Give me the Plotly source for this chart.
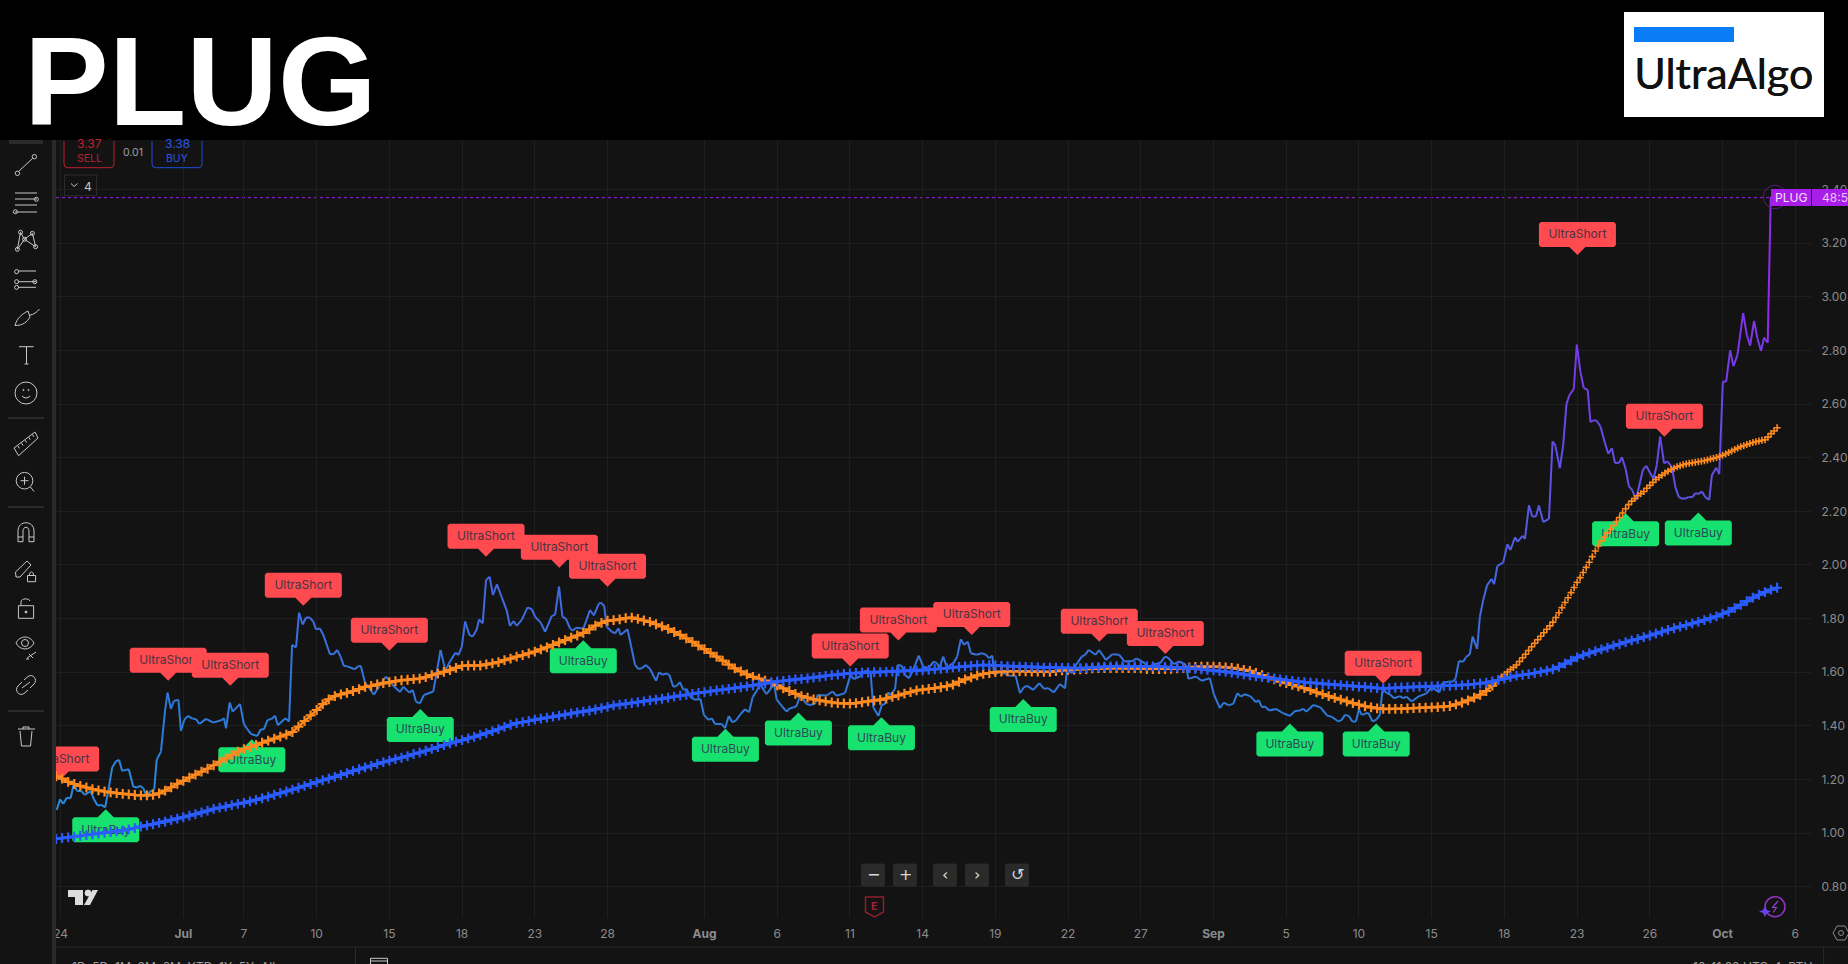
import re
import plotly.graph_objects as go

# ---------- data ----------
price_bars = [2.2,3.3,4.4,5.5,6.8,7.9,8.8,10.5,11.4,13.4,14.6,15.7,17,18.2,19.3,20.5,21.7,22.8,23.8,26,27.5,28.8,29.7,30.8,32.1,33,34.4,35.2,36.6,38,38.8,39.9,40.9,42.4,43.2,44.3,45.5,47,48.2,49.3,51.5,53.9,56.7,57.4,58.1,59.3,60.3,62.7,64,64.9,66.3,68.4,69.6,70.6,71.8,73,74.3,75.2,77.7,78.9,79.9,81.2,82.2,83.4,84.5,85.8,86.9,87.8,89.1,90.2,92.4,93.7,94.8,95.9,97,98.1,
100.6,101.8,102.6,104,105,106.9,108.5,110.9,112.8,115.5,116.6,118.6,119.7,120.8,122.1,123.4,126.5,128.9,130.5,132,133.8,134.8,135.9,137,138.4,139.5,140.8,141.6,142.8,143.9,145.1,146.2,147.5,149,150.7,151.8,153,154,155.7,157.6,159,160.2,161.9,163.4,165.6,166.7,168,169.1,170.3,171.6,172.5,173.6,176,177.1,178.2,179.5,181.1,181.7,182.9,183.7,185.4,186.5,187.6,188.3,190.6,193.1,194.2,195.3,196.6,
198,200,201,202.2,203.3,204.4,205.7,206.8,207.9,209,210.1,211.2,212.9,214.7,215.8,217.3,218.4,219.5,221.7,222.8,224,225.2,226.4,227.7,229.4,230.7,231.9,233.4,234.3,236.5,239,239.8,241.5,243.1,244.2,245.3,246.4,247.7,249.5,250.8,252.5,253.3,256.3,258.3,259.6,262.4,264.2,265.3,267.3,269,270.8,271.7,273.4,274.5,275.6,276.7,277.4,278.9,279.7,281.1,282.2,283.5,284.9,286.7,288.2,289.9,291.7,292.8,293.5,294.8,296.2,
297,298.1,299.4,300.6,301.7,302.9,303.9,305.8,307.5,308.9,310,311,311.6,313.5,315.2,316.6,318.7,320.1,321.4,322.5,324.5,326.5,328.1,329.5,331.3,333.3,335,335.7,337.2,338.6,340.5,341.6,342.8,345.1,346.2,348.5,350.6,352.9,354.6,357.3,358.6,361.4,362.5,364.1,366.3,368,369,370.9,372.7,374.9,375.7,378.2,380.1,382.8,384.1,386.1,387.4,388.9,390.5,391.9,393,394.4,
396,397.1,398,398.9,400,401,402.4,404.6,407,409.2,410.9,412.5,413.6,414.7,416.9,419.3,421.5,423,425.2,426.3,427.4,428.7,429.8,431,432,432.9,435.1,436.5,437.8,438.9,439.8,441.3,442.2,443.6,445.5,446.6,447.7,449.4,451.6,454.3,456,458.5,459.6,461.5,463.1,463.9,465,466.4,467.3,468.6,469.5,471,471.9,473,474.3,475.8,476.6,477.7,479.6,481,482,483.5,484.4,486,486.8,
488.1,489.2,490.4,491.4,492.8,494.7,495.9,496.8,498.3,499.4,500.5,501.4,502.9,503.9,505.1,506.2,507.5,508.4,509.3,510.4,511.7,513.2,514.3,515.5,516.5,517.9,518.8,520,521.1,522.3,523.4,
525.7,526.8,529.2,530.3,531.4,532.7,533.8,535.3,536.4,537.5,538.6,539.9,540.8,542.1,543,544.1,545.2,546.3,547.6,548.5,549.9,550.9,552.1,553.2,554.5,555.6,556.9,558.8,560,561.1,562.4,563.5,564.7,565.7,566.9,567.9]
price_vals = [1.086,1.126,1.109,1.132,1.130,1.186,1.158,1.156,1.142,1.156,1.124,1.103,1.105,1.096,1.161,1.244,1.267,1.273,1.232,1.238,1.173,1.170,1.176,1.167,1.132,1.155,1.163,1.273,1.304,1.459,1.524,1.463,1.493,1.497,1.381,1.422,1.437,1.427,1.425,1.407,1.426,1.412,1.422,1.428,1.391,1.487,1.453,1.482,1.407,1.391,1.370,1.362,1.387,1.387,1.422,1.425,1.438,1.402,1.428,1.416,1.702,1.693,1.822,1.778,1.804,1.804,1.789,1.760,1.763,1.739,1.667,1.668,1.683,1.658,1.623,1.622,
1.611,1.623,1.623,1.559,1.546,1.516,1.546,1.584,1.555,1.526,1.546,1.524,1.534,1.490,1.484,1.515,1.528,1.683,1.606,1.640,1.673,1.664,1.695,1.789,1.739,1.733,1.758,1.797,1.782,1.944,1.956,1.888,1.928,1.882,1.832,1.773,1.791,1.773,1.795,1.842,1.835,1.805,1.786,1.751,1.810,1.814,1.919,1.807,1.799,1.764,1.755,1.766,1.763,1.795,1.832,1.812,1.855,1.860,1.848,1.770,1.751,1.745,1.764,1.739,1.760,1.627,1.612,1.615,1.627,
1.613,1.568,1.600,1.590,1.596,1.590,1.546,1.549,1.563,1.534,1.538,1.509,1.497,1.500,1.441,1.422,1.428,1.407,1.407,1.391,1.437,1.413,1.420,1.441,1.462,1.451,1.507,1.534,1.555,1.518,1.556,1.499,1.474,1.453,1.466,1.468,1.474,1.518,1.482,1.478,1.482,1.515,1.513,1.528,1.512,1.522,1.590,1.574,1.584,1.606,1.602,1.469,1.437,1.478,1.482,1.525,1.515,1.538,1.627,1.624,1.590,1.578,1.609,1.662,1.621,1.615,1.640,1.633,1.615,1.658,1.611,
1.627,1.633,1.658,1.723,1.702,1.714,1.671,1.665,1.671,1.665,1.652,1.662,1.590,1.602,1.594,1.587,1.587,1.522,1.544,1.549,1.534,1.559,1.538,1.540,1.525,1.556,1.540,1.615,1.596,1.627,1.658,1.665,1.683,1.665,1.683,1.646,1.667,1.665,1.640,1.642,1.652,1.633,1.615,1.630,1.633,1.658,1.654,1.630,1.640,1.627,1.575,1.584,1.568,1.578,1.518,1.466,1.487,1.477,1.482,1.522,1.509,1.518,
1.511,1.500,1.488,1.496,1.469,1.472,1.457,1.463,1.447,1.437,1.455,1.457,1.464,1.453,1.478,1.469,1.438,1.434,1.416,1.422,1.441,1.437,1.416,1.416,1.462,1.441,1.449,1.416,1.424,1.441,1.540,1.521,1.518,1.503,1.511,1.503,1.509,1.491,1.509,1.521,1.544,1.525,1.559,1.565,1.565,1.577,1.642,1.639,1.656,1.668,1.733,1.687,1.807,1.869,1.925,1.948,1.928,1.997,2.009,2.077,2.056,2.103,2.087,2.109,2.097,
2.222,2.181,2.181,2.222,2.160,2.172,2.461,2.446,2.361,2.446,2.601,2.632,2.657,2.822,2.719,2.660,2.653,2.533,2.539,2.539,2.517,2.454,2.415,2.436,2.380,2.381,2.402,2.359,2.293,2.278,2.241,
2.355,2.370,2.321,2.373,2.479,2.379,2.386,2.365,2.292,2.255,2.247,2.249,2.253,2.253,2.268,2.265,2.274,2.253,2.243,2.336,2.363,2.339,2.684,2.684,2.800,2.742,2.783,2.939,2.858,2.818,2.910,2.846,2.798,2.848,2.829,3.374]

# orange average: every second bar up to bar 474, then every bar on the steep climb
orange_flat = [1.212,1.203,1.191,1.183,1.176,1.170,1.164,1.159,1.155,1.152,1.149,1.146,1.144,1.142,1.141,1.141,1.143,1.148,1.158,1.171,1.184,1.195,1.207,1.218,1.229,1.240,1.253,1.266,1.279,1.292,1.304,1.313,1.321,1.329,1.337,1.345,1.352,1.360,1.367,1.377,1.397,1.418,1.439,1.459,1.481,1.499,1.511,1.517,1.523,1.530,1.537,1.545,1.549,1.555,1.559,1.563,1.567,1.570,1.572,1.574,1.576,1.582,1.589,1.595,1.601,1.608,1.616,1.624,1.625,1.625,1.625,1.629,1.633,1.638,1.645,1.651,1.658,1.664,1.670,1.677,1.685,1.693,1.702,1.711,1.720,1.729,1.737,1.747,1.760,1.774,1.784,1.792,1.794,1.797,1.802,1.804,1.799,1.793,1.788,1.779,1.771,1.762,1.750,1.739,1.726,1.713,1.699,1.686,1.672,1.658,1.643,1.628,1.614,1.603,1.592,1.583,1.576,1.569,1.561,1.551,1.540,1.530,1.519,1.511,1.505,1.499,1.495,1.491,1.487,1.485,1.484,1.483,1.485,1.488,1.491,1.494,1.497,1.502,1.508,1.514,1.520,1.526,1.532,1.535,1.538,1.541,1.544,1.548,1.554,1.564,1.573,1.581,1.588,1.594,1.597,1.600,1.602,1.603,1.604,1.604,1.603,1.602,1.602,1.601,1.601,1.604,1.607,1.609,1.610,1.611,1.612,1.614,1.615,1.615,1.615,1.615,1.615,1.615,1.615,1.614,1.612,1.612,1.612,1.612,1.613,1.614,1.615,1.618,1.620,1.621,1.621,1.621,1.620,1.618,1.616,1.613,1.609,1.605,1.597,1.589,1.581,1.573,1.565,1.559,1.553,1.547,1.541,1.533,1.525,1.518,1.511,1.504,1.498,1.491,1.485,1.479,1.473,1.469,1.465,1.463,1.463,1.463,1.463,1.465,1.466,1.467,1.468,1.469,1.470,1.472,1.474,1.480,1.487,1.495,1.505,1.516,1.530]
orange_steep = [1.550,1.561,1.572,1.582,1.591,1.601,1.610,1.618,1.627,1.640,1.654,1.667,1.681,1.695,1.708,1.721,1.734,1.747,1.760,1.773,1.787,1.804,1.822,1.841,1.860,1.878,1.897,1.916,1.935,1.953,1.972,1.991,2.010,2.031,2.052,2.071,2.089,2.104,2.119,2.133,2.147,2.162,2.177,2.194,2.210,2.225,2.238,2.248,2.258,2.266,2.274,2.286,2.297,2.308,2.319,2.327,2.335,2.343,2.350,2.356,2.361,2.366,2.370,2.374,2.377,2.379,2.381,2.383,2.385,2.387,2.389,2.392,2.395,2.398,2.401,2.405,2.409,2.414,2.420,2.425,2.431,2.436,2.441,2.445,2.449,2.453,2.457,2.460,2.462,2.465,2.467,2.477,2.490,2.500,2.512]
blue_ma = [.978,.981,.984,.987,.990,.992,.995,.998,1.001,1.004,1.006,1.010,1.014,1.019,1.024,1.029,1.033,1.038,1.043,1.048,1.054,1.059,1.065,1.071,1.077,1.084,1.090,1.095,1.099,1.104,1.109,1.113,1.118,1.124,1.130,1.136,1.143,1.149,1.155,1.162,1.169,1.176,1.183,1.190,1.197,1.203,1.210,1.217,1.224,1.232,1.238,1.245,1.251,1.258,1.265,1.270,1.276,1.281,1.287,1.295,1.300,1.307,1.314,1.321,1.328,1.335,1.341,1.347,1.353,1.359,1.366,1.373,1.380,1.388,1.396,1.404,1.410,1.414,1.418,1.423,1.427,1.431,1.434,1.438,1.442,1.446,1.450,1.453,1.457,1.461,1.466,1.471,1.476,1.479,1.482,1.485,1.488,1.491,1.495,1.498,1.501,1.505,1.509,1.513,1.516,1.519,1.523,1.526,1.529,1.532,1.535,1.538,1.541,1.544,1.547,1.551,1.554,1.558,1.562,1.566,1.568,1.570,1.573,1.575,1.577,1.580,1.583,1.586,1.589,1.591,1.594,1.596,1.597,1.598,1.599,1.600,1.600,1.601,1.602,1.603,1.604,1.605,1.606,1.607,1.609,1.611,1.613,1.615,1.618,1.620,1.622,1.624,1.626,1.627,1.626,1.625,1.624,1.623,1.622,1.621,1.620,1.619,1.618,1.617,1.617,1.617,1.616,1.616,1.615,1.615,1.616,1.618,1.619,1.621,1.622,1.623,1.623,1.623,1.623,1.623,1.623,1.622,1.621,1.620,1.619,1.618,1.617,1.615,1.613,1.611,1.609,1.607,1.604,1.602,1.599,1.596,1.592,1.588,1.585,1.582,1.579,1.576,1.573,1.570,1.568,1.565,1.563,1.561,1.559,1.557,1.555,1.554,1.552,1.550,1.548,1.546,1.545,1.543,1.541,1.540,1.541,1.542,1.543,1.544,1.545,1.546,1.547,1.547,1.548,1.549,1.549,1.551,1.552,1.554,1.556,1.558,1.561,1.566,1.571,1.576,1.582,1.587,1.590,1.593,1.597,1.601,1.606,1.611,1.620,1.632,1.643,1.655,1.664,1.671,1.679,1.685,1.692,1.699,1.705,1.712,1.719,1.724,1.731,1.737,1.744,1.751,1.758,1.764,1.770,1.776,1.782,1.788,1.794,1.801,1.808,1.818,1.826,1.839,1.851,1.865,1.878,1.889,1.899,1.908,1.915]
blue_bars = [2 + 2 * i for i in range(len(blue_ma))]
orange_flat_bars = [2 + 2 * i for i in range(len(orange_flat))]
orange_steep_bars = [476 + i for i in range(len(orange_steep))]

short_bars = [3.5,39,59.5,83.6,112,143.9,168.1,184,264.1,280,304.2,346.3,368.1,440,504.1,532.8]
short_prices = [1.200,1.568,1.550,1.848,1.680,2.031,1.990,1.919,1.621,1.718,1.739,1.714,1.668,1.557,3.156,2.478]
buy_bars = [18.4,66.6,122.2,176,222.9,247,274.4,321.2,409.2,437.7,520,544]
buy_prices = [1.089,1.350,1.463,1.719,1.389,1.450,1.432,1.500,1.409,1.409,2.193,2.196]

tick_bars = [3.5,44,64,88,112,136,160,184,216,240,264,288,312,336,360,384,408,432,456,480,504,528,552,576]
tick_text = ["24","<b>Jul</b>","7","10","15","18","23","28","<b>Aug</b>","6","11","14","19","22","27","<b>Sep</b>","5","10","15","18","23","26","<b>Oct</b>","6"]
price_ticks = [0.8,1.0,1.2,1.4,1.6,1.8,2.0,2.2,2.4,2.6,2.8,3.0,3.2,3.4]
last_price = 3.37

# ---------- frame ----------
W, H = 1848, 964
PL, PR, PT, PB = 56, 1811, 140, 918
PX_PER_BAR, PX_PER_UNIT = 3.03, 268.1
BG = "#131313"
UI = "#c8c8c8"

def xp(x): return (x - PL) / (PR - PL)
def yp(y): return (PB - y) / (PB - PT)

shapes, annotations = [], []

def rect(x0, y0, x1, y1, fill=None, line=None, lw=1):
    shapes.append(dict(type="rect", xref="paper", yref="paper", x0=xp(x0), x1=xp(x1), y0=yp(y0), y1=yp(y1),
                       fillcolor=fill or "rgba(0,0,0,0)", line=dict(color=line or "rgba(0,0,0,0)", width=lw if line else 0), layer="above"))

def seg(x0, y0, x1, y1, color=UI, lw=1):
    shapes.append(dict(type="line", xref="paper", yref="paper", x0=xp(x0), x1=xp(x1), y0=yp(y0), y1=yp(y1),
                       line=dict(color=color, width=lw), layer="above"))

def circ(cx, cy, r, color=UI, lw=1, fill=None):
    shapes.append(dict(type="circle", xref="paper", yref="paper", x0=xp(cx - r), x1=xp(cx + r), y0=yp(cy + r), y1=yp(cy - r),
                       fillcolor=fill or "rgba(0,0,0,0)", line=dict(color=color, width=lw), layer="above"))

def path(d, color=UI, lw=1, fill=None):
    toks = re.findall(r"[MLCQZ]|-?[\d.]+", d)
    out, isx = [], True
    for t in toks:
        if t.isalpha():
            out.append(t)
        else:
            out.append(f"{xp(float(t)):.6f}" if isx else f"{yp(float(t)):.6f}")
            isx = not isx
    shapes.append(dict(type="path", xref="paper", yref="paper", path=" ".join(out),
                       fillcolor=fill or "rgba(0,0,0,0)",
                       line=dict(color=color if color else "rgba(0,0,0,0)", width=lw if color else 0), layer="above"))

def text(x, y, s, size=12, color=UI, anchor="center", family="Inter", shadow=None):
    font = dict(family=family, size=size, color=color)
    if shadow:
        font["shadow"] = shadow
    annotations.append(dict(xref="paper", yref="paper", x=xp(x), y=yp(y), text=s, showarrow=False,
                            xanchor=anchor, yanchor="middle", align=anchor if anchor != "center" else "center",
                            font=font, borderpad=0))

fig = go.Figure()

# ---------- signal labels (drawn first: the lines run over them) ----------
def bubble(bar, price, w, up):
    """Rounded tag with a pointer whose tip sits on (bar, price); sizes in pixels."""
    h, tip, r, t = 25, 8, 2, 8
    top = tip if up else -(tip + h)
    bot = top + h
    pts = [(-w/2 + r, top)]
    if up:
        pts += [(-t, top), (0, 0), (t, top)]
    pts += [(w/2 - r, top), (w/2, top + r), (w/2, bot - r), (w/2 - r, bot)]
    if not up:
        pts += [(t, bot), (0, 0), (-t, bot)]
    pts += [(-w/2 + r, bot), (-w/2, bot - r), (-w/2, top + r), (-w/2 + r, top)]
    xs = [bar + a / PX_PER_BAR for a, _ in pts]
    ys = [price - b / PX_PER_UNIT for _, b in pts]
    cy = price - (top + h / 2 + 0.8) / PX_PER_UNIT
    return xs, ys, cy

labels = [(b, p, "s") for b, p in zip(short_bars, short_prices)] + [(b, p, "b") for b, p in zip(buy_bars, buy_prices)]
for b, p, kind in labels:
    up = kind == "b"
    xs, ys, cy = bubble(b, p, 67 if up else 77, up)
    fig.add_trace(go.Scatter(x=xs, y=ys, mode="lines", fill="toself", fillcolor="#17e26f" if up else "#ff4a50",
                             line=dict(width=0), hoverinfo="skip"))
    fig.add_trace(go.Scatter(x=[b], y=[cy], mode="text", text=["UltraBuy" if up else "UltraShort"],
                             textposition="middle center", hoverinfo="skip",
                             textfont=dict(family="Inter", size=12, color="#2b4a55" if up else "#4a3340")))

# ---------- price line: colour follows the price level ----------
stops = [(1.1, (42, 138, 222)), (1.5, (48, 120, 216)), (1.9, (68, 104, 224)), (2.3, (95, 82, 228)), (2.8, (122, 56, 234)), (3.38, (168, 32, 240))]
def shade(p):
    if p <= stops[0][0]:
        return stops[0][1]
    for (a, ca), (b, cb) in zip(stops, stops[1:]):
        if p <= b:
            k = (p - a) / (b - a)
            return tuple(round(u + (v - u) * k) for u, v in zip(ca, cb))
    return stops[-1][1]

bands = {}
for i in range(len(price_vals) - 1):
    mid = (price_vals[i] + price_vals[i + 1]) / 2
    key = round(mid / 0.05)
    bx, by = bands.setdefault(key, ([], []))
    bx += [price_bars[i], price_bars[i + 1], None]
    by += [price_vals[i], price_vals[i + 1], None]
for key, (bx, by) in sorted(bands.items()):
    fig.add_trace(go.Scatter(x=bx, y=by, mode="lines", hoverinfo="skip", connectgaps=False,
                             line=dict(color="rgb(%d,%d,%d)" % shade(key * 0.05), width=2)))

# ---------- moving averages ----------
ORANGE, BLUE = "#ff8a1f", "#2a5cff"
def plus(col, size=7, lw=2.2):
    return dict(symbol="cross-thin", size=size, color=col, line=dict(width=lw, color=col))
fig.add_trace(go.Scatter(x=orange_flat_bars + orange_steep_bars[:1], y=orange_flat + orange_steep[:1], mode="lines+markers", hoverinfo="skip",
                         line=dict(color=ORANGE, width=2.4), marker=plus(ORANGE)))
fig.add_trace(go.Scatter(x=orange_steep_bars, y=orange_steep, mode="markers", hoverinfo="skip", marker=plus(ORANGE, 5, 1.6)))
fig.add_trace(go.Scatter(x=blue_bars, y=blue_ma, mode="lines+markers", hoverinfo="skip",
                         line=dict(color=BLUE, width=2.8), marker=plus(BLUE)))

# ---------- price guide ----------
shapes.append(dict(type="line", xref="paper", yref="y", x0=0, x1=xp(1772), y0=last_price, y1=last_price,
                   line=dict(color="#a020e8", width=1, dash="dot"), layer="below"))

# ---------- header ----------
rect(0, 0, W, PT, fill="#000000")
text(23, 81, "<b>PLUG</b>", size=127, color="#ffffff", anchor="left", family="Liberation Sans")
rect(1624, 12, 1824, 117, fill="#ffffff")
rect(1634, 27, 1734, 42, fill="#0a7cf5")
text(1633, 73, "UltraAlgo", size=43, color="#111111", anchor="left", family="Lato", shadow="0.5px 0 0 #111111")

# ---------- last-price tag ----------
circ(1775, 197, 11.7, color="#5a1b80", lw=1)
rect(1771, 189, 1811, 206, fill="#a81ee8")
rect(1812, 189, 1848, 206, fill="#a81ee8")
text(1791, 197.5, "PLUG", size=12, color="#f4e0ff")
text(1820.5, 197.5, "48:55", size=12, color="#e6c8fa", anchor="left")

# ---------- left toolbar ----------
rect(0, PT, 52, H, fill=BG)
rect(52, PT, 56, H, fill="#2a2a2a")
rect(9, PT, 43, 144, fill="#2a2a2a")
seg(19, 171, 32.5, 158.5); circ(17.4, 173.3, 2.2); circ(34.4, 156.7, 2.2)
for y in (193, 199, 205, 212):
    seg(15, y, 37, y)
circ(36.4, 199.3, 2); circ(15.4, 211.7, 2)
for c in ((20.5, 232.3), (32.4, 233.3), (24.5, 239.3), (17.4, 249.3), (35.6, 246.7)):
    circ(c[0], c[1], 2)
seg(17.4, 249.3, 20.5, 232.3); seg(20.5, 232.3, 24.5, 239.3); seg(24.5, 239.3, 32.4, 233.3); seg(32.4, 233.3, 35.6, 246.7); seg(17.4, 249.3, 24.5, 239.3); seg(24.5, 239.3, 35.6, 246.7)
for y in (271, 281.7, 287.3):
    seg(18, y, 36, y)
circ(16.6, 271.7, 2); circ(16.6, 281.7, 2); circ(34.8, 281.7, 2); circ(16.6, 287.3, 2)
path("M15 325.5 C17 318 22 314 28 311 L30 317 C27 322 23 325.5 15 325.5 Z")
path("M30 315 C33 315 37 312 39.5 309")
seg(19, 346.7, 33.6, 346.7); seg(26.5, 346.7, 26.5, 364); seg(24.5, 364, 28.5, 364)
circ(26, 393, 11); circ(23.5, 390, 0.6); circ(28.5, 390, 0.6)
path("M22 396 Q26 400 30 396")
seg(8, 418, 44, 418, "#444444")
path("M14 448 L35 432 L38 438 L18.6 455.7 Z")
for k in range(5):
    seg(18 + k * 3.6, 446 - k * 2.9, 19.4 + k * 3.6, 448.4 - k * 2.9)
circ(24.5, 480.7, 8.3); seg(20.5, 480.7, 28.5, 480.7); seg(24.5, 476.7, 24.5, 484.7); seg(30.5, 487, 34, 491.5)
seg(8, 507, 44, 507, "#444444")
path("M18 541.7 L18 531 C18 520 34 520 34 531 L34 541.7 L29 541.7 L29 531 C29 526 23 526 23 531 L23 541.7 Z")
seg(18, 537, 23, 537); seg(29, 537, 34, 537)
path("M16 577 L15.5 572 L27 561 L31 565 L20 577 Z")
rect(27.5, 575.5, 35.6, 581.7, line=UI); path("M29.5 575.5 C29.5 570.5 33.5 570.5 33.5 575.5")
rect(18.4, 605.7, 33.6, 618.3, line=UI); path("M21 605.7 L21 602 C21 598 29 598 30 601"); circ(26, 612, 1, fill=UI)
path("M16 643 C20 635 30 635 34 643 C30 651 20 651 16 643 Z"); circ(25, 643, 3.5)
seg(27, 658, 36, 652); seg(26, 659, 29, 659); seg(29, 654, 33, 658)
path("M24 680 L28 676.5 C33 673 38 680 34 684 L30 688"); path("M28 690 L24 693.5 C19 697 14 690 18 686 L22 682"); seg(22, 688, 30, 682)
seg(8, 711, 44, 711, "#444444")
seg(18, 729, 35, 729); path("M23 729 L23 727 L29 727 L29 729"); path("M20 731 L21.5 746 L30.5 746 L32 731")

# ---------- order widgets ----------
path("M64 141 L64 164 Q64 167.7 67.7 167.7 L110.3 167.7 Q114 167.7 114 164 L114 141", color="#c2202e")
path("M152 141 L152 164 Q152 167.7 155.7 167.7 L198.3 167.7 Q202 167.7 202 164 L202 141", color="#1f4fe0")
text(89, 143.5, "3.37", size=12, color="#c2202e")
text(89, 158, "SELL", size=10.5, color="#c2202e")
text(177, 143.5, "3.38", size=12, color="#2a55e6")
text(177, 158, "BUY", size=10.5, color="#2a55e6")
text(132.5, 152, "0.01", size=10.5, color="#a0a0a0")
rect(64.5, 175, 96.5, 195.7, line="#2c2c2c")
path("M71 183.5 L74.2 186.5 L77.5 183.5")
text(88, 186, "4", size=12, color="#c0c0c0")

# ---------- watermark & nav ----------
path("M68 890 L83 890 L83 905 L75 905 L75 897 L68 897 Z", color=None, fill="#dcdcdc")
circ(88, 893, 3, color="#dcdcdc", fill="#dcdcdc")
path("M92.5 890 L98 890 L90 905 L84 905 Z", color=None, fill="#dcdcdc")
for cx, sym in zip((873, 905, 945, 977, 1017), ("−", "+", "‹", "›", "↺")):
    path(f"M{cx-9} 863.5 L{cx+9} 863.5 Q{cx+12} 863.5 {cx+12} 866.5 L{cx+12} 883.5 Q{cx+12} 886.5 {cx+9} 886.5 L{cx-9} 886.5 Q{cx-12} 886.5 {cx-12} 883.5 L{cx-12} 866.5 Q{cx-12} 863.5 {cx-9} 863.5 Z",
         color=None, fill="#2a2a2a")
    text(cx, 874.5, sym, size=16, color="#d8d8d8", family="DejaVu Sans")
path("M865.5 897 L883.5 897 L883.5 912 L874.5 917 L865.5 912 Z", color="#8e1f2c", lw=1.5)
text(874.5, 905.5, "<b>E</b>", size=11, color="#a8202f")
circ(1775, 906.7, 10, color="#8f35c0", lw=1.5)
path("M1778 901 L1772.5 907.5 L1776.5 907.5 L1773 912.5", color="#9040c8", lw=1.2)
path("M1765 906 L1767 910 L1771 911.5 L1767 913 L1765 917 L1763 913 L1759 911.5 L1763 910 Z", color=None, fill="#6a40f0")

# ---------- bottom bar ----------
seg(56, 947, W, 947, "#2a2a2a")
text(71, 967, "1D&nbsp;&nbsp;5D&nbsp;&nbsp;1M&nbsp;&nbsp;3M&nbsp;&nbsp;6M&nbsp;&nbsp;YTD&nbsp;&nbsp;1Y&nbsp;&nbsp;5Y&nbsp;&nbsp;All", size=12, color="#a0a0a0", anchor="left")
seg(355.5, 947, 355.5, H, "#2a2a2a")
rect(370.5, 958.3, 387.5, 970, line=UI)
seg(370.5, 961, 387.5, 961)
text(1814, 967, "10:41:20 UTC-4&nbsp;&nbsp;RTH", size=12, color="#a0a0a0", anchor="right")
seg(1823.6, 947, 1823.6, H, "#2a2a2a")
path("M1833 933 L1837 926 L1845 926 L1849 933 L1845 940 L1837 940 Z", color="#8a8a8a")
circ(1841, 933, 2.5, color="#8a8a8a")

# ---------- layout ----------
fig.update_layout(
    width=W, height=H, showlegend=False, hovermode=False,
    paper_bgcolor=BG, plot_bgcolor=BG,
    margin=dict(l=PL, r=W - PR, t=PT, b=H - PB, pad=0, autoexpand=False),
    font=dict(family="Inter", size=12, color="#8c8c8c"),
    shapes=shapes, annotations=annotations,
    xaxis=dict(range=[(PL - 50) / PX_PER_BAR, (PR - 50) / PX_PER_BAR], tickmode="array", tickvals=tick_bars, ticktext=tick_text,
               automargin=False, showgrid=True, gridcolor="#1e1f21", gridwidth=1, zeroline=False, showline=False,
               ticks="outside", ticklen=5, tickcolor="rgba(0,0,0,0)", tickfont=dict(family="Inter", size=12, color="#8c8c8c")),
    yaxis=dict(range=[0.8 + (886.7 - PB) / PX_PER_UNIT, 0.8 + (886.7 - PT) / PX_PER_UNIT], side="right", tickmode="array",
               tickvals=price_ticks, ticktext=[f"{v:.2f}" for v in price_ticks],
               automargin=False, showgrid=True, gridcolor="#1e1f21", gridwidth=1, zeroline=False, showline=False,
               ticks="outside", ticklen=7, tickcolor="rgba(0,0,0,0)", tickfont=dict(family="Inter", size=12, color="#8c8c8c")),
)

fig.write_html("out.html", config=dict(displayModeBar=False),
               post_script="document.body.style.margin='0';document.body.style.background='#131313';document.body.style.overflow='hidden';")
